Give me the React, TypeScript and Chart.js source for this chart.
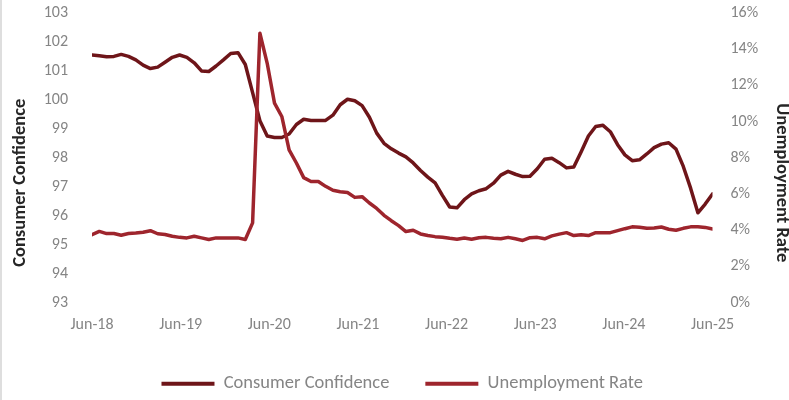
import React, { useEffect, useRef } from "react";
import { Chart, registerables } from "chart.js";

Chart.register(...registerables);

// ---- Data -------------------------------------------------------------
const TICK_LABELS = ["Jun-18", "Jun-19", "Jun-20", "Jun-21", "Jun-22", "Jun-23", "Jun-24", "Jun-25"];

const CONSUMER_CONFIDENCE = [
  101.55, 101.52, 101.49, 101.5, 101.57, 101.5, 101.38, 101.2, 101.08, 101.13,
  101.3, 101.47, 101.55, 101.47, 101.28, 101.0, 100.98, 101.17, 101.38, 101.6,
  101.63, 101.22, 100.25, 99.28, 98.75, 98.7, 98.7, 98.82, 99.15, 99.33,
  99.29, 99.29, 99.29, 99.47, 99.83, 100.02, 99.97, 99.8, 99.4, 98.85,
  98.5, 98.31, 98.16, 98.03, 97.82, 97.56, 97.33, 97.13, 96.7, 96.3,
  96.27, 96.55, 96.75, 96.86, 96.93, 97.12, 97.4, 97.53, 97.43, 97.35,
  97.36, 97.62, 97.95, 97.98, 97.83, 97.65, 97.68, 98.2, 98.75, 99.08,
  99.12, 98.9, 98.45, 98.1, 97.9, 97.93, 98.13, 98.35, 98.47, 98.52,
  98.3, 97.7, 96.95, 96.1, 96.4, 96.75,
];

const UNEMPLOYMENT_RATE = [
  3.75, 3.93, 3.81, 3.81, 3.72, 3.81, 3.84, 3.88, 3.97, 3.8,
  3.76, 3.66, 3.6, 3.57, 3.66, 3.57, 3.48, 3.57, 3.57, 3.57,
  3.57, 3.48, 4.4, 14.88, 13.22, 11.02, 10.28, 8.44, 7.71, 6.9,
  6.69, 6.69, 6.42, 6.2, 6.12, 6.08, 5.81, 5.85, 5.5, 5.2,
  4.82, 4.52, 4.25, 3.92, 3.99, 3.79, 3.7, 3.64, 3.61, 3.55,
  3.5, 3.57, 3.5, 3.58, 3.6, 3.55, 3.52, 3.6, 3.52, 3.43,
  3.58, 3.6, 3.52, 3.68, 3.78, 3.86, 3.7, 3.75, 3.7, 3.86,
  3.86, 3.86, 3.97, 4.08, 4.18, 4.16, 4.1, 4.12, 4.17, 4.05,
  3.99, 4.1, 4.18, 4.18, 4.15, 4.06,
];

const SERIES_NAMES = ["Consumer Confidence", "Unemployment Rate"];
const LEFT_TITLE = "Consumer Confidence";
const RIGHT_TITLE = "Unemployment Rate";

// ---- Style ------------------------------------------------------------
const FONT = "Carlito, Lato, 'Liberation Sans', sans-serif";
const DARK = "#6E1519";
const RED = "#9E252D";
const TICK_COLOR = "#858585";
const TITLE_COLOR = "#262626";
const LEGEND_PAD = 36;

const chromePlugin = {
  id: "chrome",
  beforeDraw(chart: any) {
    const { ctx, width, height } = chart;
    ctx.save();
    ctx.fillStyle = "#ffffff";
    ctx.fillRect(0, 0, width, height);
    ctx.fillStyle = "#DEDEDE";
    ctx.fillRect(0, 0, 2, height);
    ctx.restore();
  },
  afterDraw(chart: any) {
    const { ctx, chartArea } = chart;
    const cy = (chartArea.top + chartArea.bottom) / 2 + 25;
    ctx.save();
    ctx.font = `bold 18.5px ${FONT}`;
    ctx.fillStyle = TITLE_COLOR;
    ctx.textAlign = "center";
    ctx.textBaseline = "middle";
    ctx.save();
    ctx.translate(20, cy);
    ctx.rotate(-Math.PI / 2);
    ctx.fillText(LEFT_TITLE, 0, 0);
    ctx.restore();
    ctx.save();
    ctx.translate(chart.width - 7, cy);
    ctx.rotate(Math.PI / 2);
    ctx.fillText(RIGHT_TITLE, 0, 0);
    ctx.restore();
    ctx.restore();
  },
};

export default function App() {
  const ref = useRef<HTMLCanvasElement | null>(null);

  useEffect(() => {
    if (!ref.current) return;
    const n = CONSUMER_CONFIDENCE.length;
    const chart = new Chart(ref.current, {
      type: "line",
      data: {
        datasets: [
          {
            label: SERIES_NAMES[0],
            data: CONSUMER_CONFIDENCE.map((v, i) => ({ x: i, y: v })),
            borderColor: DARK,
            backgroundColor: DARK,
            borderWidth: 3.5,
            pointRadius: 0,
            tension: 0,
            borderJoinStyle: "round",
            borderCapStyle: "round",
            yAxisID: "y",
            order: 1,
          },
          {
            label: SERIES_NAMES[1],
            data: UNEMPLOYMENT_RATE.map((v, i) => ({ x: i, y: v })),
            borderColor: RED,
            backgroundColor: RED,
            borderWidth: 3.5,
            pointRadius: 0,
            tension: 0,
            borderJoinStyle: "round",
            borderCapStyle: "round",
            yAxisID: "y1",
            order: 0,
          },
        ],
      },
      options: {
        responsive: false,
        animation: false,
        maintainAspectRatio: false,
        layout: { padding: { top: 13, bottom: -3, left: 0, right: 0 } },
        plugins: {
          tooltip: { enabled: false },
          legend: {
            position: "bottom",
            fullSize: false,
            labels: {
              boxWidth: 53,
              boxHeight: 4,
              padding: LEGEND_PAD,
              color: TICK_COLOR,
              font: { family: FONT, size: 18.5 },
              sort: (a: any, b: any) => a.datasetIndex - b.datasetIndex,
              generateLabels: (c: any) =>
                Chart.defaults.plugins.legend.labels
                  .generateLabels(c)
                  .map((it: any) => ({ ...it, lineWidth: 0, fillStyle: it.strokeStyle })),
            },
          },
        },
        scales: {
          x: {
            type: "linear",
            min: 0,
            max: n - 1,
            offset: false,
            grid: { display: false, drawTicks: false },
            border: { display: false },
            afterBuildTicks: (scale: any) => {
              scale.ticks = TICK_LABELS.map((_, i) => ({ value: (i * (n - 1)) / (TICK_LABELS.length - 1) }));
            },
            afterFit: (scale: any) => {
              scale.height = 72 - LEGEND_PAD;
            },
            ticks: {
              autoSkip: false,
              maxRotation: 0,
              padding: 13,
              color: TICK_COLOR,
              font: { family: FONT, size: 16 },
              callback: (_v: any, i: number) => TICK_LABELS[i],
            },
          },
          y: {
            position: "left",
            min: 93,
            max: 103,
            grid: { display: false, drawTicks: true, tickLength: 24 },
            border: { display: false },
            afterFit: (scale: any) => {
              scale.width = 92;
            },
            ticks: {
              stepSize: 1,
              padding: 0,
              color: TICK_COLOR,
              font: { family: FONT, size: 16 },
            },
          },
          y1: {
            position: "right",
            min: 0,
            max: 16,
            grid: { display: false, drawTicks: true, tickLength: 18 },
            border: { display: false },
            afterFit: (scale: any) => {
              scale.width = 76.5;
            },
            ticks: {
              stepSize: 2,
              padding: 0,
              color: TICK_COLOR,
              font: { family: FONT, size: 16 },
              callback: (v: any) => `${v}%`,
            },
          },
        },
      },
      plugins: [chromePlugin],
    } as any);
    return () => chart.destroy();
  }, []);

  return (
    <div style={{ position: "absolute", left: 0, top: 0, width: 789, height: 400, background: "#fff" }}>
      <canvas ref={ref} width={789} height={400} style={{ display: "block", width: 789, height: 400 }} />
    </div>
  );
}
